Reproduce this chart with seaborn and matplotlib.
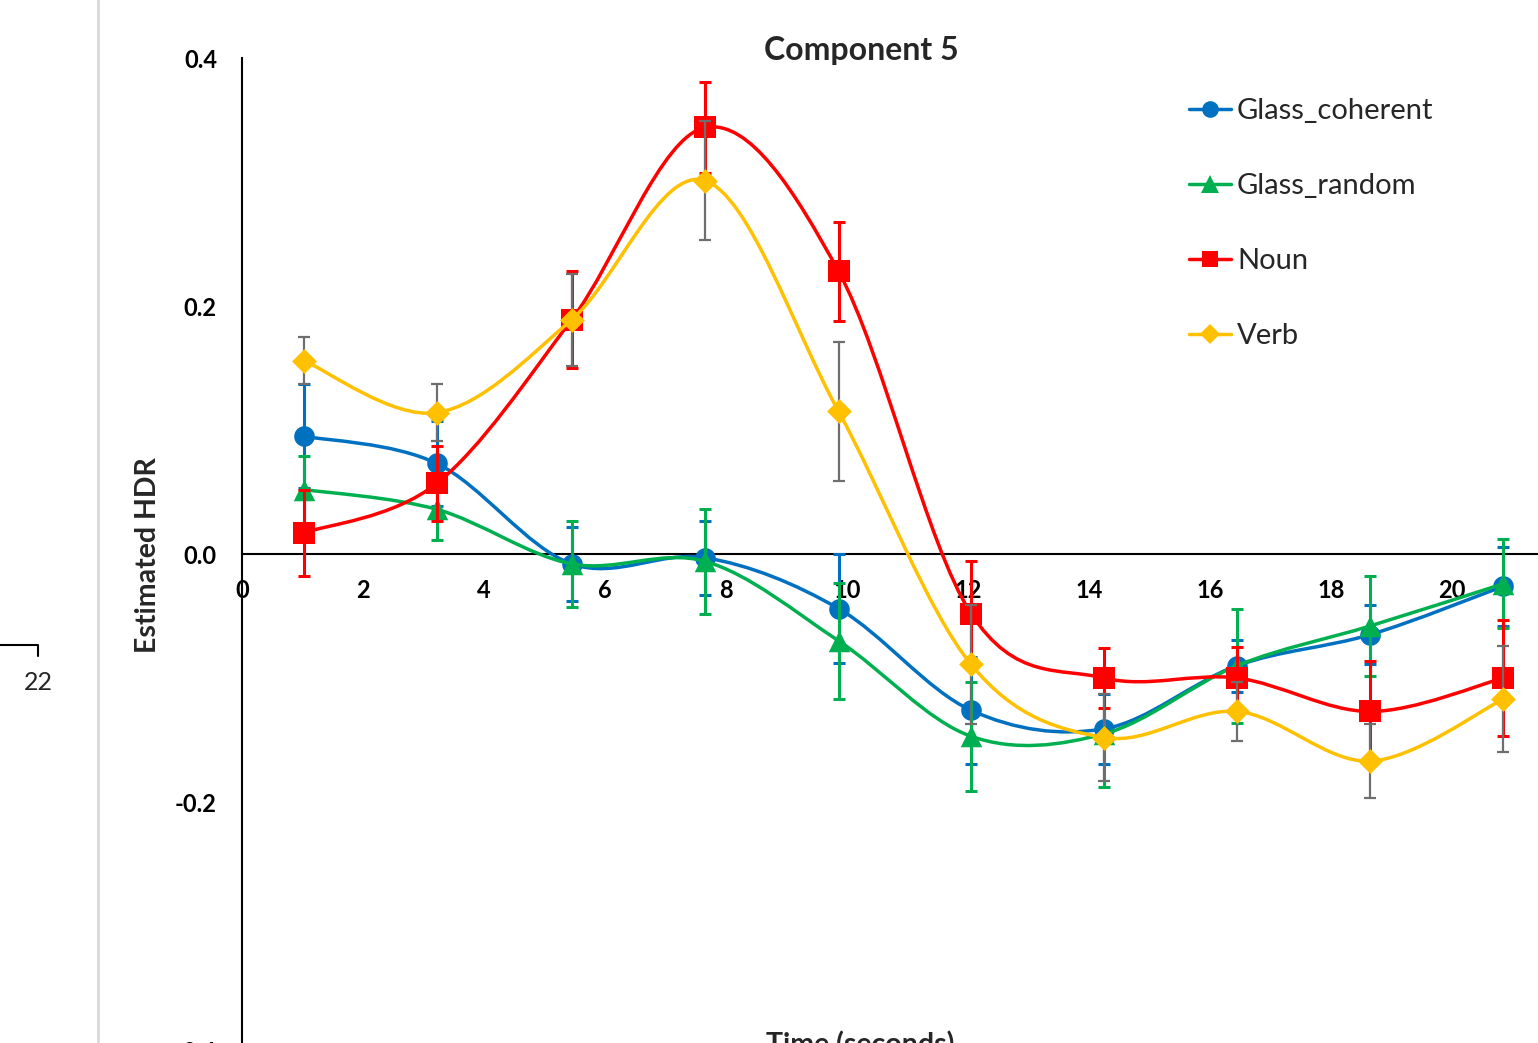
"""Component 5 estimated HDR time courses (Excel-style smoothed lines)."""

import matplotlib

matplotlib.use("Agg")
import matplotlib.pyplot as plt
import numpy as np
import pandas as pd
import seaborn as sns
from matplotlib.lines import Line2D
from matplotlib.patches import PathPatch
from matplotlib.path import Path

# ---- data ----
time_s = [1.02, 3.22, 5.45, 7.66, 9.86, 12.05, 14.25, 16.45, 18.65, 20.85]

glass_coherent = [0.095, 0.073, -0.008, -0.003, -0.044, -0.126, -0.141, -0.090, -0.065, -0.026]
glass_coherent_err = [0.042, 0.034, 0.030, 0.030, 0.044, 0.043, 0.028, 0.021, 0.024, 0.032]

glass_random = [0.052, 0.036, -0.008, -0.006, -0.070, -0.147, -0.145, -0.090, -0.058, -0.024]
glass_random_err = [0.027, 0.025, 0.035, 0.042, 0.047, 0.044, 0.043, 0.046, 0.040, 0.036]

noun = [0.017, 0.057, 0.189, 0.344, 0.228, -0.048, -0.100, -0.100, -0.127, -0.100]
noun_err = [0.035, 0.030, 0.039, 0.037, 0.040, 0.042, 0.024, 0.025, 0.041, 0.047]

verb = [0.156, 0.114, 0.189, 0.301, 0.115, -0.089, -0.148, -0.127, -0.167, -0.117]
verb_err = [0.019, 0.023, 0.037, 0.048, 0.056, 0.048, 0.035, 0.024, 0.030, 0.043]

series_names = ["Glass_coherent", "Glass_random", "Noun", "Verb"]
series_values = [glass_coherent, glass_random, noun, verb]
series_errors = [glass_coherent_err, glass_random_err, noun_err, verb_err]

x_ticks = [0, 2, 4, 6, 8, 10, 12, 14, 16, 18, 20]
y_ticks = [-0.4, -0.2, 0.0, 0.2, 0.4]

# ---- styles ----
colors = {"Glass_coherent": "#0070C0", "Glass_random": "#00B050", "Noun": "#FF0000", "Verb": "#FFC000"}
err_colors = {"Glass_coherent": "#0070C0", "Glass_random": "#00B050", "Noun": "#FF0000", "Verb": "#6e6e6e"}
markers = {"Glass_coherent": "o", "Glass_random": "^", "Noun": "s", "Verb": "D"}
marker_area = {"Glass_coherent": 220, "Glass_random": 240, "Noun": 250, "Verb": 160}
legend_ms = {"Glass_coherent": 12, "Glass_random": 12.5, "Noun": 12, "Verb": 10}


def smooth_path(x, y):
    """Catmull-Rom style Bezier path through the points, like Excel's smoothed line."""
    pts = np.column_stack([x, y])
    n = len(pts)
    verts = [pts[0]]
    codes = [Path.MOVETO]
    for i in range(n - 1):
        p0 = pts[max(i - 1, 0)]
        p1, p2 = pts[i], pts[i + 1]
        p3 = pts[min(i + 2, n - 1)]
        verts += [p1 + (p2 - p0) / 6, p2 - (p3 - p1) / 6, p2]
        codes += [Path.CURVE4] * 3
    return Path(verts, codes)


sns.set_theme(style="white")
plt.rcParams["font.family"] = ["Lato", "DejaVu Sans"]

W, H = 1538, 1043
fig = plt.figure(figsize=(W / 100, H / 100), dpi=100)
ax = fig.add_axes([242 / W, 1 - 1050 / H, 1331 / W, 992 / H])

for k, (name, vals, errs) in enumerate(zip(series_names, series_values, series_errors)):
    z = 3 + k * 0.1
    thin = name == "Verb"
    ax.errorbar(time_s, vals, yerr=errs, fmt="none", ecolor=err_colors[name],
                elinewidth=1.6 if thin else 2.2, capsize=4, capthick=1.6 if thin else 2.2, zorder=z)
    ax.add_patch(PathPatch(smooth_path(time_s, vals), fill=False, edgecolor=colors[name],
                           lw=2.5, zorder=z + 0.02, capstyle="round"))
    df = pd.DataFrame({"time": time_s, "value": vals})
    sns.scatterplot(data=df, x="time", y="value", marker=markers[name], color=colors[name],
                    s=marker_area[name], linewidth=0, ax=ax, zorder=z + 0.05, legend=False)

ax.set_xlim(0, 22)
ax.set_ylim(-0.4, 0.4)
ax.set_xticks(x_ticks)
ax.set_yticks(y_ticks)
ax.set_yticklabels([f"{v:.1f}" for v in y_ticks])
ax.set_xlabel("")
ax.set_ylabel("")

for side in ["top", "right"]:
    ax.spines[side].set_visible(False)
ax.spines["bottom"].set_position(("data", 0))
for side in ["bottom", "left"]:
    ax.spines[side].set_linewidth(1.5)
    ax.spines[side].set_color("black")

ax.tick_params(axis="both", direction="out", length=6, width=1.5, colors="black", labelsize=17)
ax.tick_params(axis="x", pad=12)
ax.tick_params(axis="y", pad=12)
for lab in ax.get_xticklabels() + ax.get_yticklabels():
    lab.set_fontweight("bold")

# title and axis labels, placed as in the reference
fig.text(861 / W, 1 - 50 / H, "Component 5", ha="center", va="center", fontsize=23, fontweight="bold")
fig.text(148 / W, 1 - 555 / H, "Estimated HDR", ha="center", va="center", rotation=90,
         fontsize=20.5, fontweight="bold")
fig.text(860 / W, 1 - 1031 / H, "Time (seconds)", ha="center", va="top", fontsize=20.5, fontweight="bold")

# legend
handles = [Line2D([], [], color=colors[n], lw=2.5, marker=markers[n], markersize=legend_ms[n],
                  markeredgewidth=0) for n in series_names]
fig.legend(handles, series_names, loc="upper left", bbox_to_anchor=(1189 / W, 1 - 98 / H),
           frameon=False, fontsize=21, handlelength=1.45, handletextpad=0.2, labelspacing=1.68,
           borderpad=0, borderaxespad=0)

# fragments of the neighbouring chart at the left edge
fig.add_artist(Line2D([98 / W, 98 / W], [0, 1], color="#d9d9d9", lw=2, transform=fig.transFigure))
fig.add_artist(Line2D([0, 38 / W, 38 / W], [1 - 645 / H, 1 - 645 / H, 1 - 656 / H], color="black",
                      lw=1.5, transform=fig.transFigure))
fig.text(38 / W, 1 - 683 / H, "22", ha="center", va="center", fontsize=18)

fig.savefig("out.png", dpi=100)
